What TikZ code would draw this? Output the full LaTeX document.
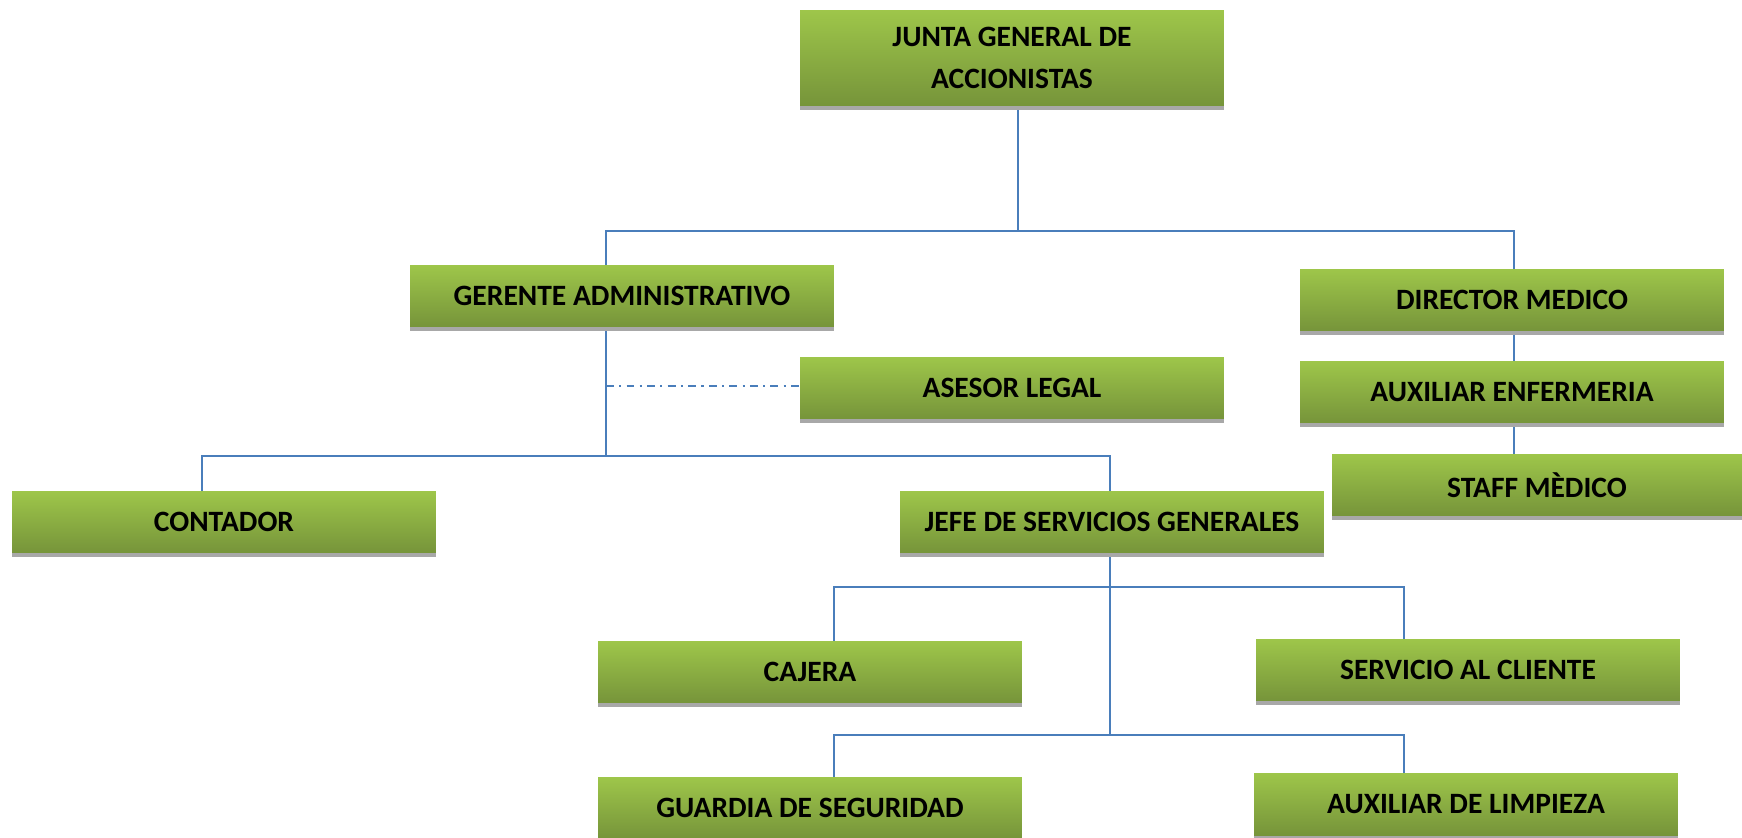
\documentclass[tikz,border=0pt]{standalone}
\usepackage{fontspec}
\setmainfont{Carlito}
\usepackage{xcolor}
\usetikzlibrary{shadows,backgrounds}
\definecolor{verdeA}{RGB}{158,198,74}
\definecolor{verdeB}{RGB}{118,148,58}
\definecolor{sombra}{RGB}{168,168,168}
\definecolor{azul}{RGB}{74,126,187}

\begin{document}
\begin{tikzpicture}[x=0.02cm,y=-0.02cm,
  cargo/.style={minimum width=8.48cm,minimum height=1.24cm,inner sep=0pt,
                top color=verdeA,bottom color=verdeB,align=center,
                font=\fontsize{16.8}{23.5}\selectfont\bfseries,
                general shadow={fill=sombra,shadow yshift=-0.08cm}},
  linea/.style={draw=azul,line width=1.1pt},
  asesoria/.style={linea,dash pattern=on 4.5pt off 3pt on 1.2pt off 3pt}]
\useasboundingbox (0,0) rectangle (1742,838);
% cargos
\node[cargo,minimum height=1.92cm] (junta) at (1012,58) {JUNTA GENERAL DE\\ACCIONISTAS};
\node[cargo] (ger)   at (622,296)  {GERENTE ADMINISTRATIVO};
\node[cargo] (ase)   at (1012,388) {ASESOR LEGAL};
\node[cargo] (dir)   at (1512,300) {DIRECTOR MEDICO};
\node[cargo] (aux)   at (1512,392) {AUXILIAR ENFERMERIA};
\node[cargo,minimum width=8.2cm] (staff) at (1537,485) {STAFF MÈDICO};
\node[cargo] (cont)  at (224,522)  {CONTADOR};
\node[cargo] (jefe)  at (1112,522) {JEFE DE SERVICIOS GENERALES};
\node[cargo] (caja)  at (810,672)  {CAJERA};
\node[cargo] (serv)  at (1468,670) {SERVICIO AL CLIENTE};
\node[cargo] (guar)  at (810,808)  {GUARDIA DE SEGURIDAD};
\node[cargo] (limp)  at (1466,804) {AUXILIAR DE LIMPIEZA};
% puntos de las lineas
\coordinate (b1) at (1018,231); \coordinate (b1l) at (606,231); \coordinate (b1r) at (1514,231);
\coordinate (b2) at (606,456);  \coordinate (b2l) at (202,456); \coordinate (b2r) at (1110,456);
\coordinate (b3) at (1110,587); \coordinate (b3l) at (834,587); \coordinate (b3r) at (1404,587);
\coordinate (b4) at (1110,735); \coordinate (b4l) at (834,735); \coordinate (b4r) at (1404,735);
\coordinate (asj) at (606,386);
\begin{scope}[on background layer]
\draw[linea] (junta.south -| b1) -- (b1);
\draw[linea] (ger.north -| b1l) -- (b1l) -- (b1r) -- (dir.north -| b1r);
\draw[linea] (dir.south -| b1r) -- (aux.north -| b1r);
\draw[linea] (aux.south -| b1r) -- (staff.north -| b1r);
\draw[linea] (ger.south -| b2) -- (b2);
\draw[asesoria] (asj) -- (ase.west |- asj);
\draw[linea] (cont.north -| b2l) -- (b2l) -- (b2r) -- (jefe.north -| b2r);
\draw[linea] (jefe.south -| b3) -- (b4);
\draw[linea] (caja.north -| b3l) -- (b3l) -- (b3r) -- (serv.north -| b3r);
\draw[linea] (guar.north -| b4l) -- (b4l) -- (b4r) -- (limp.north -| b4r);
\end{scope}
\end{tikzpicture}
\end{document}
